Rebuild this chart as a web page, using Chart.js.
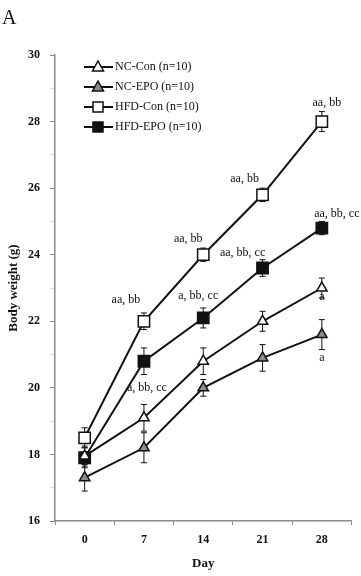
<!DOCTYPE html>
<html>
<head>
<meta charset="utf-8">
<script src="https://cdn.jsdelivr.net/npm/chart.js@4.4.0/dist/chart.umd.min.js"></script>
<style>
  body { margin: 0; background: #fff; }
  #wrap { width: 361px; height: 576px; position: relative; }
</style>
</head>
<body>
<div id="wrap"><canvas id="chart"></canvas></div>
<script>
// body weight (g), mean and SEM per group
const days = ['0', '7', '14', '21', '28'];
const seriesNames = ['NC-Con (n=10)', 'NC-EPO (n=10)', 'HFD-Con (n=10)', 'HFD-EPO (n=10)'];
const ncCon = [17.95, 19.1, 20.8, 22.0, 23.0];
const ncEpo = [17.3, 18.2, 20.0, 20.9, 21.6];
const hfdCon = [18.5, 22.0, 24.0, 25.8, 28.0];
const hfdEpo = [17.9, 20.8, 22.1, 23.6, 24.8];
const ncConErr = [0.3, 0.4, 0.4, 0.3, 0.3];
const ncEpoErr = [0.4, 0.45, 0.25, 0.4, 0.45];
const hfdConErr = [0.3, 0.25, 0.2, 0.2, 0.3];
const hfdEpoErr = [0.3, 0.4, 0.3, 0.25, 0.2];
// significance marks: [series, day index, text]
const sigMarks = [
    [2, 1, 'aa, bb'],
    [2, 2, 'aa, bb'],
    [2, 3, 'aa, bb'],
    [2, 4, 'aa, bb'],
    [3, 1, 'a, bb, cc'],
    [3, 2, 'a, bb, cc'],
    [3, 3, 'aa, bb, cc'],
    [3, 4, 'aa, bb, cc'],
    [0, 4, 'a'],
    [1, 4, 'a']
];

const errs = [ncConErr, ncEpoErr, hfdConErr, hfdEpoErr];
// where each mark sits relative to its point (px)
const sigOffsets = [
    [-18, -21], [-15, -16], [-18, -16], [5, -19],
    [3, 27], [-5, -22], [-20, -15], [15, -14],
    [0, 9], [0, 23]
];
const serif = '"Liberation Serif", "Times New Roman", serif';
const axisGray = '#8a8a8a';

const errorBars = {
    id: 'errorBars',
    beforeDatasetsDraw(chart) {
        const ctx = chart.ctx;
        const y = chart.scales.y;
        ctx.save();
        ctx.strokeStyle = '#111';
        ctx.lineWidth = 1;
        chart.data.datasets.forEach((ds, i) => {
            chart.getDatasetMeta(i).data.forEach((pt, j) => {
                const top = y.getPixelForValue(ds.data[j] + errs[i][j]);
                const bot = y.getPixelForValue(ds.data[j] - errs[i][j]);
                ctx.beginPath();
                ctx.moveTo(pt.x, top); ctx.lineTo(pt.x, bot);
                ctx.moveTo(pt.x - 3, top); ctx.lineTo(pt.x + 3, top);
                ctx.moveTo(pt.x - 3, bot); ctx.lineTo(pt.x + 3, bot);
                ctx.stroke();
            });
        });
        ctx.restore();
    }
};

function marker(ctx, style, x, y, fill) {
    ctx.fillStyle = fill;
    ctx.strokeStyle = '#111';
    ctx.lineWidth = 1.5;
    ctx.beginPath();
    if (style === 'rect') {
        ctx.rect(x - 5, y - 5, 10, 10);
    } else {
        ctx.moveTo(x, y - 6);
        ctx.lineTo(x + 5.5, y + 4);
        ctx.lineTo(x - 5.5, y + 4);
        ctx.closePath();
    }
    ctx.fill();
    ctx.stroke();
}

const extras = {
    id: 'extras',
    afterDraw(chart) {
        const ctx = chart.ctx;
        ctx.save();
        // panel letter
        ctx.fillStyle = '#111';
        ctx.font = '20px ' + serif;
        ctx.textAlign = 'left';
        ctx.textBaseline = 'alphabetic';
        ctx.fillText('A', 2, 24);

        // significance marks
        ctx.font = '12px ' + serif;
        ctx.textAlign = 'center';
        ctx.textBaseline = 'middle';
        sigMarks.forEach((m, k) => {
            const pt = chart.getDatasetMeta(m[0]).data[m[1]];
            ctx.fillText(m[2], pt.x + sigOffsets[k][0], pt.y + sigOffsets[k][1]);
        });

        // legend inside the plot
        ctx.textAlign = 'left';
        chart.data.datasets.forEach((ds, i) => {
            const ly = 67 + i * 20;
            ctx.strokeStyle = '#111';
            ctx.lineWidth = 2;
            ctx.beginPath();
            ctx.moveTo(84, ly); ctx.lineTo(113, ly);
            ctx.stroke();
            marker(ctx, ds.pointStyle, 98, ly, ds.pointBackgroundColor);
            ctx.fillStyle = '#111';
            ctx.font = '12px ' + serif;
            ctx.fillText(ds.label, 115, ly);
        });
        ctx.restore();
    }
};

const styles = [
    { pointStyle: 'triangle', fill: '#ffffff', r: 6 },
    { pointStyle: 'triangle', fill: '#8c8c8c', r: 6 },
    { pointStyle: 'rect', fill: '#ffffff', r: 8 },
    { pointStyle: 'rect', fill: '#111111', r: 8 }
];
const values = [ncCon, ncEpo, hfdCon, hfdEpo];

new Chart(document.getElementById('chart'), {
    type: 'line',
    data: {
        labels: days,
        datasets: values.map((v, i) => ({
            label: seriesNames[i],
            data: v,
            borderColor: '#111',
            borderWidth: 2,
            pointStyle: styles[i].pointStyle,
            pointRadius: styles[i].r,
            pointBackgroundColor: styles[i].fill,
            pointBorderColor: '#111',
            pointBorderWidth: 1.5,
            tension: 0
        }))
    },
    options: {
        responsive: true,
        maintainAspectRatio: false,
        animation: false,
        layout: { padding: { left: 0, top: 55, right: 6, bottom: 0 } },
        plugins: {
            legend: { display: false },
            tooltip: { enabled: false }
        },
        scales: {
            x: {
                type: 'category',
                offset: true,
                afterFit(s) { s.height = 55; },
                grid: { offset: true, drawOnChartArea: false, tickLength: 4, color: axisGray },
                border: { display: true, color: axisGray, width: 1.5 },
                ticks: { color: '#111', padding: 8, font: { family: serif, size: 12, weight: 'bold' } },
                title: {
                    display: true, text: 'Day', color: '#111',
                    padding: { top: 0, bottom: 5 },
                    font: { family: serif, size: 13, weight: 'bold' }
                }
            },
            y: {
                min: 16,
                max: 30,
                afterFit(s) { s.width = 55; },
                grid: {
                    drawOnChartArea: false,
                    tickLength: 5,
                    color: c => (c.tick && c.tick.value % 2 ? '#dddddd' : axisGray)
                },
                border: { display: true, color: axisGray, width: 1.5 },
                ticks: {
                    stepSize: 1,
                    autoSkip: false,
                    color: '#111',
                    padding: 10,
                    font: { family: serif, size: 12, weight: 'bold' },
                    callback: v => (v % 2 === 0 ? v : '')
                },
                title: {
                    display: true, text: 'Body weight (g)', color: '#111',
                    padding: { top: 6, bottom: 0 },
                    font: { family: serif, size: 13, weight: 'bold' }
                }
            }
        }
    },
    plugins: [errorBars, extras]
});
</script>
</body>
</html>
